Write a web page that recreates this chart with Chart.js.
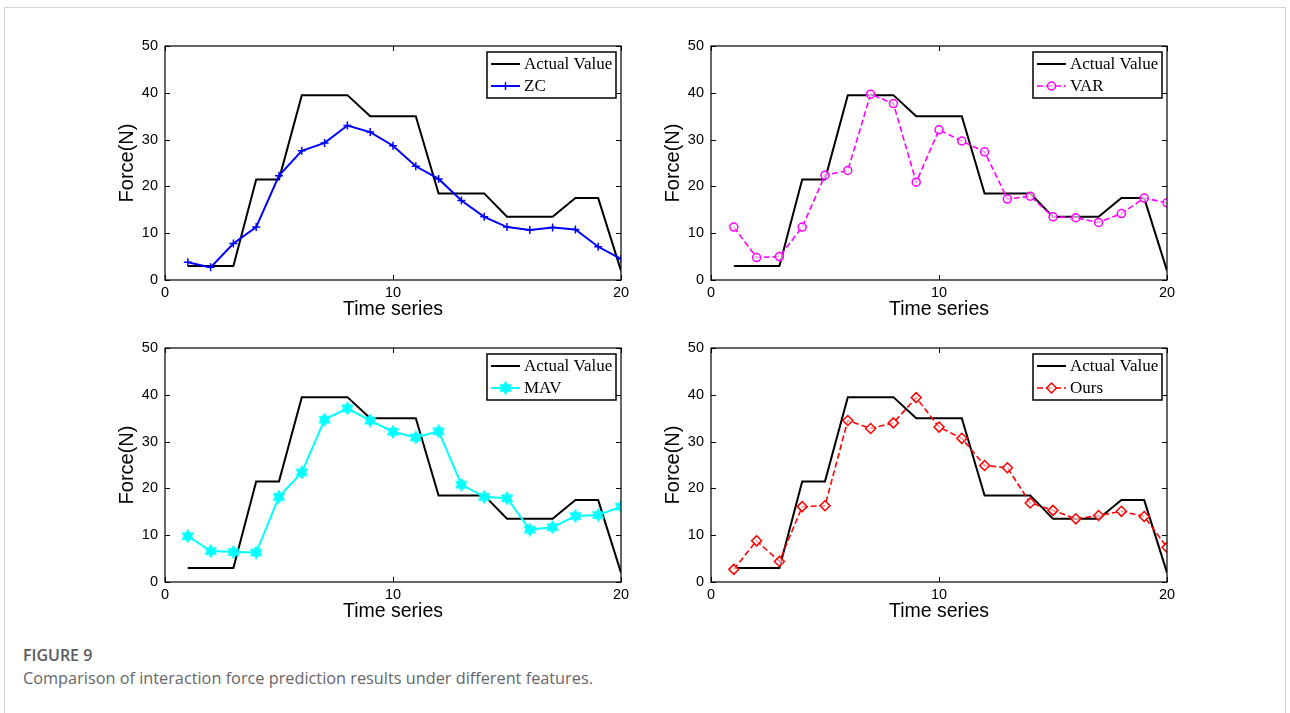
<!DOCTYPE html>
<html>
<head>
<meta charset="utf-8">
<script src="https://cdn.jsdelivr.net/npm/chart.js@4.4.1/dist/chart.umd.min.js"></script>
<style>
  body { margin: 0; background: #fff; width: 1290px; height: 713px; overflow: hidden; position: relative; }
  .frame { position: absolute; left: 4px; top: 7px; width: 1282px; height: 720px; border: 1px solid #d4d4d4; box-sizing: border-box; }
  canvas { position: absolute; }
  .cap1 { position: absolute; left: 23px; top: 644px; font: 600 16px "Open Sans", sans-serif; color: #5a5a5a; }
  .cap2 { position: absolute; left: 23px; top: 667px; font: 400 16.3px "Open Sans", sans-serif; color: #666; }
</style>
</head>
<body>
<div class="frame"></div>
<canvas id="zcChart" width="560" height="300" style="left:100px;top:30px"></canvas>
<canvas id="varChart" width="560" height="300" style="left:646px;top:30px"></canvas>
<canvas id="mavChart" width="560" height="300" style="left:100px;top:332px"></canvas>
<canvas id="oursChart" width="560" height="300" style="left:646px;top:332px"></canvas>
<div class="cap1">FIGURE 9</div>
<div class="cap2">Comparison of interaction force prediction results under different features.</div>

<script>
// time steps and measured force
const timeSteps = [1, 2, 3, 4, 5, 6, 7, 8, 9, 10, 11, 12, 13, 14, 15, 16, 17, 18, 19, 20];
const actualForce = [3, 3, 3, 21.5, 21.5, 39.5, 39.5, 39.5, 35, 35, 35, 18.5, 18.5, 18.5, 13.5, 13.5, 13.5, 17.5, 17.5, 2];

// predicted force for each feature
const zcForce   = [3.8, 2.7, 7.8, 11.3, 22.3, 27.6, 29.3, 33.0, 31.6, 28.7, 24.3, 21.6, 17.0, 13.5, 11.3, 10.7, 11.2, 10.8, 7.1, 4.5];
const varForce  = [11.3, 4.8, 5.0, 11.3, 22.4, 23.4, 39.7, 37.7, 20.9, 32.1, 29.7, 27.4, 17.3, 17.9, 13.5, 13.3, 12.3, 14.2, 17.5, 16.5];
const mavForce  = [9.8, 6.6, 6.4, 6.3, 18.2, 23.4, 34.7, 37.1, 34.5, 32.1, 30.9, 32.2, 20.8, 18.2, 17.9, 11.2, 11.7, 14.1, 14.3, 16.1];
const oursForce = [2.7, 8.8, 4.4, 16.1, 16.3, 34.5, 32.8, 34.0, 39.4, 33.1, 30.7, 24.9, 24.4, 16.9, 15.3, 13.5, 14.2, 15.1, 14.0, 7.4];

// axis ticks
const xTicks = [0, 10, 20];
const yTicks = [0, 10, 20, 30, 40, 50];

const sansFont = "'Liberation Sans', Arial, sans-serif";
const serifFont = "'Liberation Serif', 'Times New Roman', serif";

// filled six-point star used as the MAV marker
function hexagram(size, color) {
  const c = document.createElement('canvas');
  c.width = c.height = size;
  const g = c.getContext('2d');
  const r = size / 2 - 0.5, ri = r / Math.sqrt(3);
  g.beginPath();
  for (let i = 0; i < 12; i++) {
    const a = -Math.PI / 2 + i * Math.PI / 6;
    const rr = i % 2 ? ri : r;
    const px = size / 2 + rr * Math.cos(a), py = size / 2 + rr * Math.sin(a);
    i ? g.lineTo(px, py) : g.moveTo(px, py);
  }
  g.closePath();
  g.fillStyle = color;
  g.fill();
  g.strokeStyle = color;
  g.lineWidth = 1;
  g.stroke();
  return c;
}

const toPoints = vals => timeSteps.map((t, i) => ({x: t, y: vals[i]}));

// box around the axes with inward ticks on all four sides
const boxAxes = {
  id: 'boxAxes',
  afterDraw(chart) {
    const {ctx, chartArea: a, scales: {x, y}} = chart;
    ctx.save();
    ctx.strokeStyle = '#000';
    ctx.lineWidth = 1.2;
    ctx.strokeRect(a.left, a.top, a.right - a.left, a.bottom - a.top);
    ctx.lineWidth = 1;
    ctx.beginPath();
    xTicks.forEach(v => {
      const px = Math.round(x.getPixelForValue(v)) + 0.5;
      ctx.moveTo(px, a.bottom); ctx.lineTo(px, a.bottom - 5);
      ctx.moveTo(px, a.top); ctx.lineTo(px, a.top + 5);
    });
    yTicks.forEach(v => {
      const py = Math.round(y.getPixelForValue(v)) + 0.5;
      ctx.moveTo(a.left, py); ctx.lineTo(a.left + 5, py);
      ctx.moveTo(a.right, py); ctx.lineTo(a.right - 5, py);
    });
    ctx.stroke();
    ctx.restore();
  }
};

// legend box in the upper right corner of the axes
const boxLegend = {
  id: 'boxLegend',
  afterDraw(chart) {
    const {ctx, chartArea: a} = chart;
    const w = 129, h = 46;
    const left = a.right - 5 - w, top = a.top + 6;
    ctx.save();
    ctx.fillStyle = '#fff';
    ctx.fillRect(left, top, w, h);
    ctx.strokeStyle = '#000';
    ctx.lineWidth = 1.5;
    ctx.strokeRect(left, top, w, h);
    chart.data.datasets.forEach((ds, i) => {
      const ly = top + 12 + i * 22;
      ctx.save();
      ctx.strokeStyle = ds.borderColor;
      ctx.lineWidth = ds.borderWidth;
      ctx.setLineDash(ds.borderDash || []);
      ctx.beginPath();
      ctx.moveTo(left + 4, ly);
      ctx.lineTo(left + 33, ly);
      ctx.stroke();
      ctx.setLineDash([]);
      if (ds.pointRadius > 0) {
        ctx.strokeStyle = ds.pointBorderColor || ds.borderColor;
        ctx.fillStyle = ds.pointBackgroundColor || ds.borderColor;
        ctx.lineWidth = ds.pointBorderWidth || ds.borderWidth;
        Chart.helpers.drawPoint(ctx, {pointStyle: ds.pointStyle, radius: ds.pointRadius, borderWidth: ctx.lineWidth, rotation: 0}, left + 18.5, ly);
      }
      ctx.restore();
      ctx.fillStyle = '#000';
      ctx.font = '17px ' + serifFont;
      ctx.textBaseline = 'middle';
      ctx.fillText(ds.label, left + 37, ly + 1);
    });
    ctx.restore();
  }
};

function makeChart(id, series) {
  new Chart(document.getElementById(id), {
    type: 'line',
    data: {
      datasets: [
        {
          label: 'Actual Value',
          data: toPoints(actualForce),
          borderColor: '#000',
          borderWidth: 2,
          pointRadius: 0,
          order: 2
        },
        Object.assign({data: toPoints(series.values), order: 1, fill: false}, series.style, {label: series.label})
      ]
    },
    options: {
      responsive: false,
      animation: false,
      layout: {padding: {top: 16, right: 39, left: 0, bottom: 0}},
      plugins: {legend: {display: false}, tooltip: {enabled: false}},
      scales: {
        x: {
          type: 'linear', min: 0, max: 20,
          ticks: {stepSize: 10, padding: 4, color: '#000', maxRotation: 0, font: {family: sansFont, size: 14.5}},
          grid: {display: false, drawTicks: false},
          border: {display: false},
          title: {display: true, text: 'Time series', color: '#000', font: {family: sansFont, size: 19.5, lineHeight: 1}, padding: {top: 0, bottom: 11}},
          afterFit(s) { s.height = 50; }
        },
        y: {
          type: 'linear', min: 0, max: 50,
          ticks: {stepSize: 10, padding: 7, color: '#000', font: {family: sansFont, size: 14.5}},
          grid: {display: false, drawTicks: false},
          border: {display: false},
          title: {display: true, text: 'Force(N)', color: '#000', font: {family: sansFont, size: 20, lineHeight: 1}, padding: {top: 17, bottom: 0}},
          afterFit(s) { s.width = 65; }
        }
      }
    },
    plugins: [boxAxes, boxLegend]
  });
}

makeChart('zcChart', {
  label: 'ZC', values: zcForce,
  style: {borderColor: '#0000ff', borderWidth: 2, pointStyle: 'cross', pointRadius: 4, pointBorderWidth: 1.5, pointBorderColor: '#0000ff'}
});
makeChart('varChart', {
  label: 'VAR', values: varForce,
  style: {borderColor: '#ff00ff', borderWidth: 1.6, borderDash: [6, 3], pointStyle: 'circle', pointRadius: 4, pointBorderWidth: 1.5, pointBorderColor: '#ff00ff', pointBackgroundColor: 'rgba(255,255,255,0.6)'}
});
makeChart('mavChart', {
  label: 'MAV', values: mavForce,
  style: {borderColor: '#00ffff', borderWidth: 2, pointStyle: hexagram(14, '#00ffff'), pointRadius: 7, pointBorderWidth: 1, pointBorderColor: '#00ffff'}
});
makeChart('oursChart', {
  label: 'Ours', values: oursForce,
  style: {borderColor: '#ff0000', borderWidth: 1.6, borderDash: [6, 3], pointStyle: 'rectRot', pointRadius: 5, pointBorderWidth: 1.5, pointBorderColor: '#ff0000', pointBackgroundColor: 'rgba(255,255,255,0.6)'}
});
</script>
</body>
</html>
